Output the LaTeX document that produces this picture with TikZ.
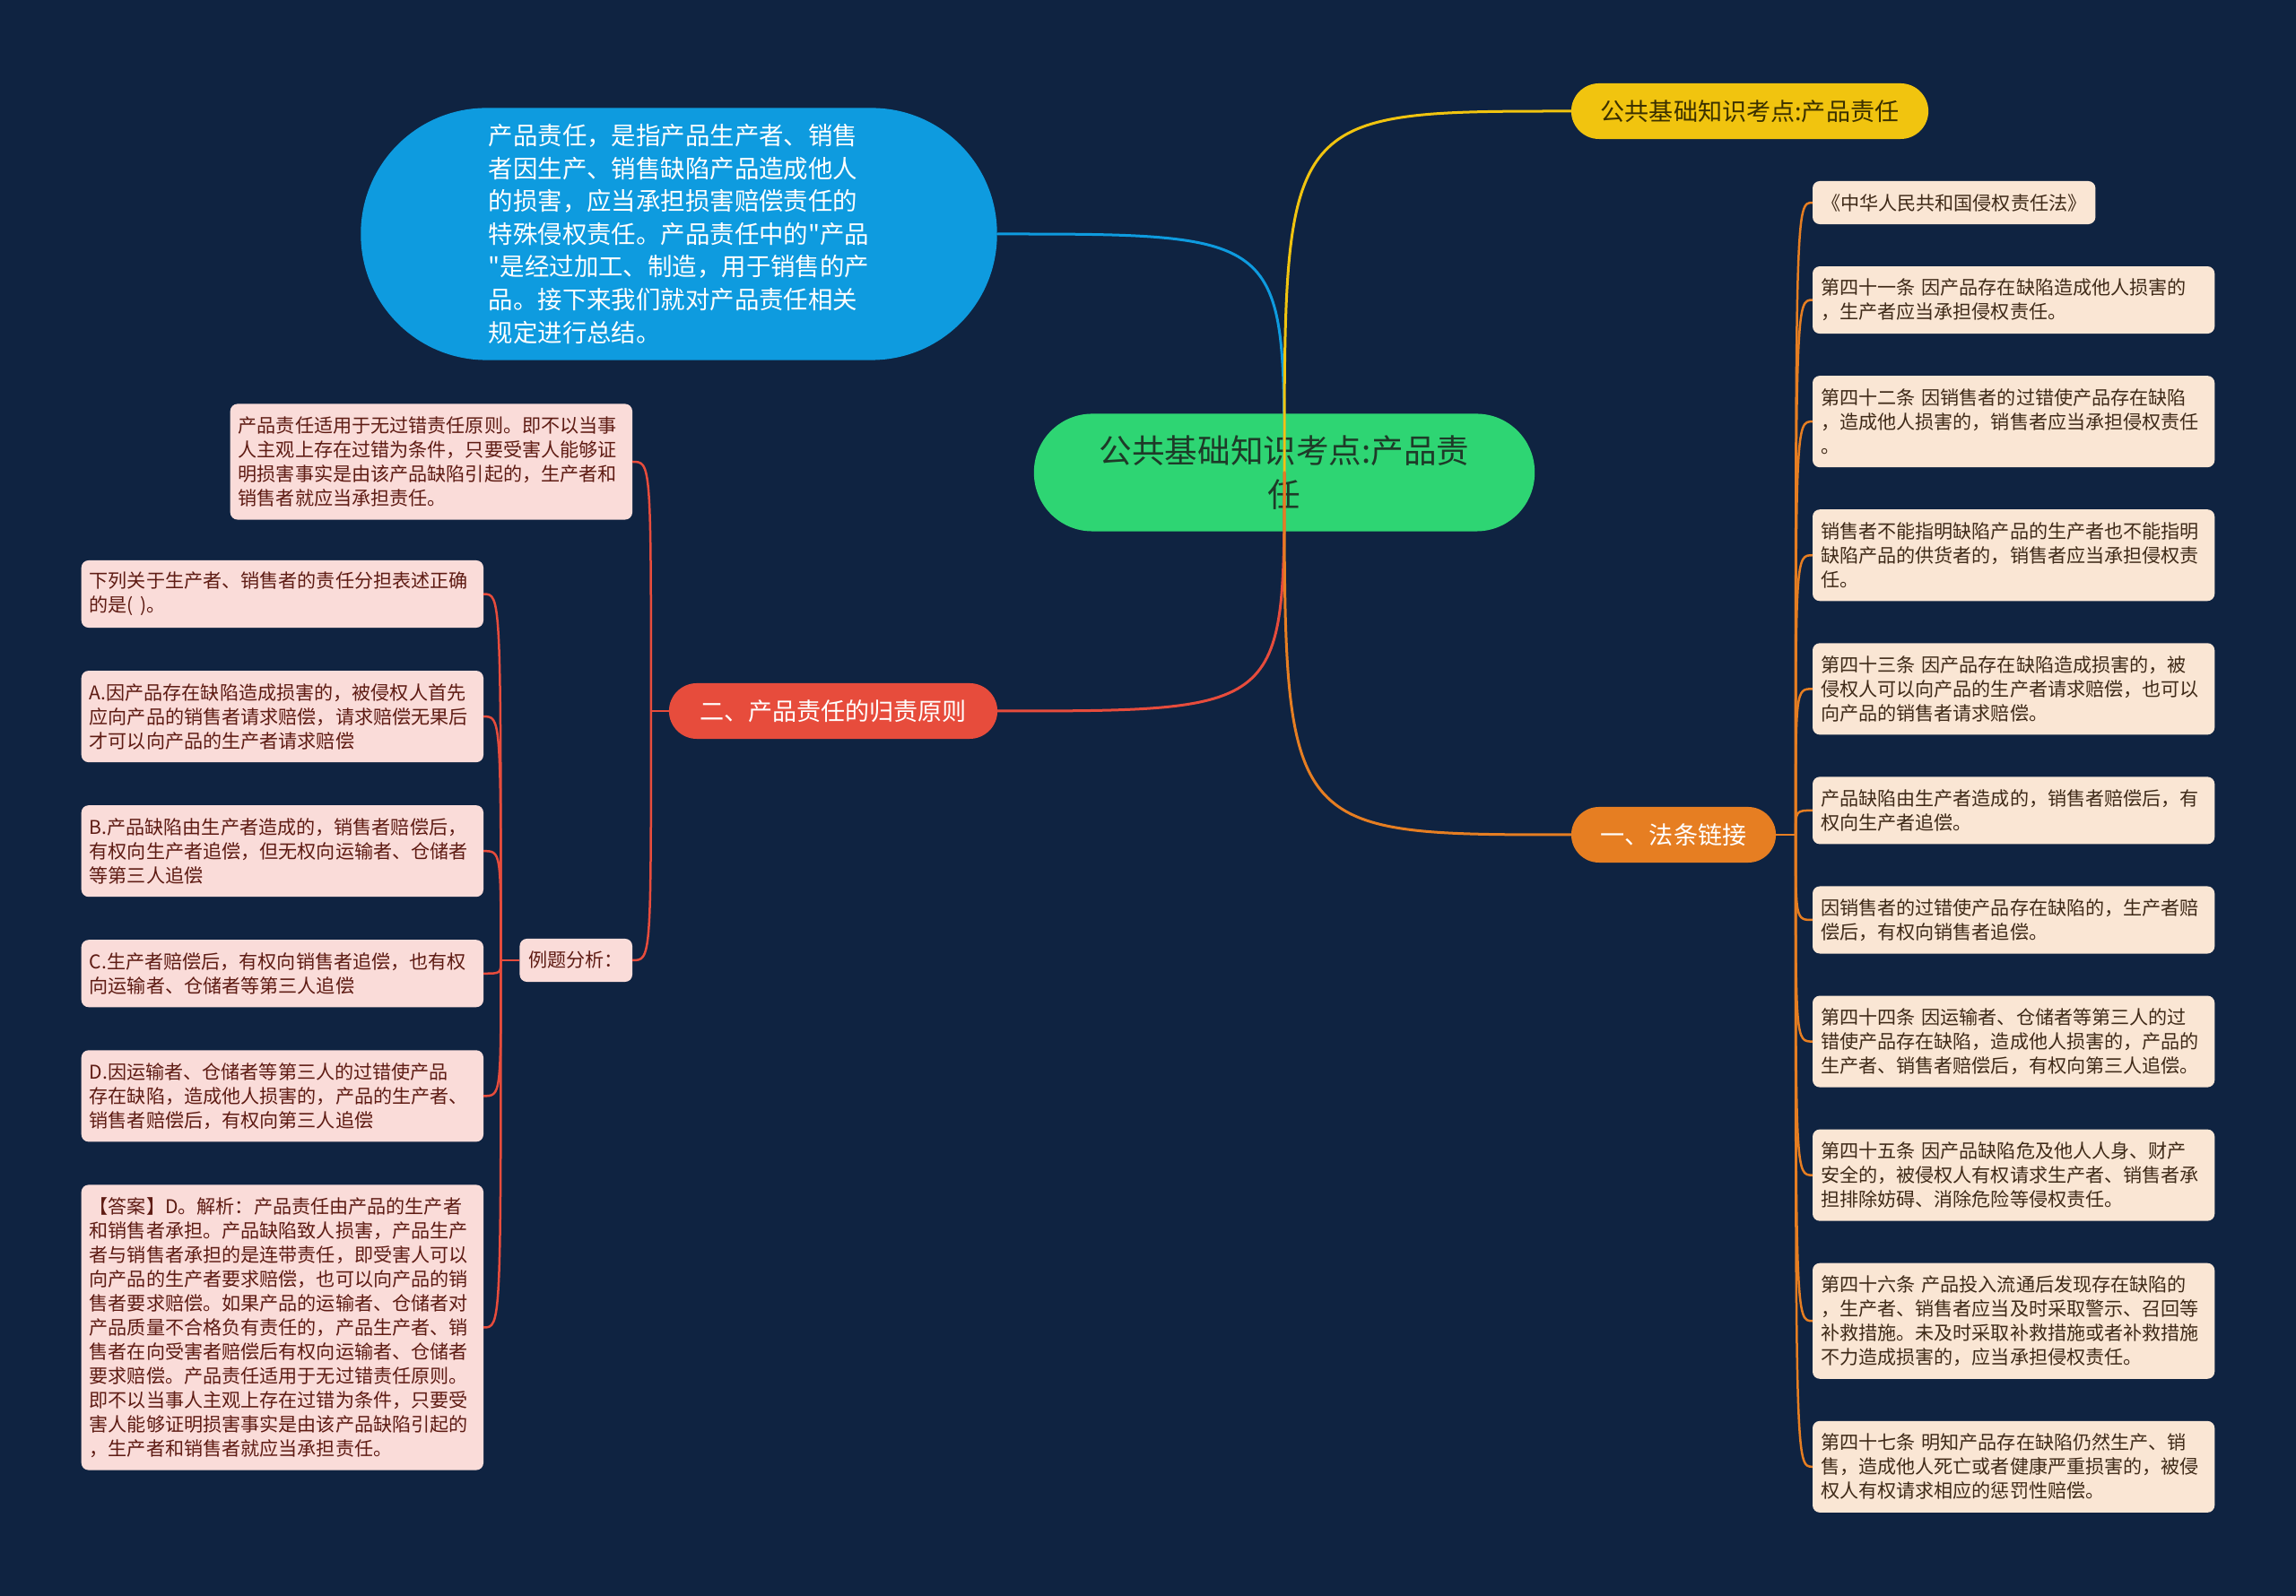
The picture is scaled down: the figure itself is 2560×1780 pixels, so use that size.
\documentclass[tikz,border=0pt]{standalone}
\usepackage{fontspec}
\newfontfamily\cjk{Noto Sans CJK SC}
\definecolor{mmBg}{HTML}{0F2341}
\definecolor{mmGreen}{HTML}{2ED573}
\definecolor{mmGreenText}{HTML}{1E3A28}
\definecolor{mmBlue}{HTML}{0E9BDF}
\definecolor{mmYellow}{HTML}{F1C40F}
\definecolor{mmYellowText}{HTML}{3B3000}
\definecolor{mmRed}{HTML}{E74C3C}
\definecolor{mmOrange}{HTML}{E67E22}
\definecolor{mmPink}{HTML}{FADCD9}
\definecolor{mmMaroon}{HTML}{5E1B13}
\definecolor{mmPeach}{HTML}{FAE6D4}
\definecolor{mmBrown}{HTML}{3F2A18}
\usetikzlibrary{positioning}

\begin{document}
\begin{tikzpicture}[
    x=0.01cm, y=-0.01cm,
    central/.style={fill=mmGreen, text=mmGreenText, rounded corners=0.65cm,
                    minimum width=5.58cm, minimum height=1.31cm, inner sep=0pt,
                    align=center, font=\cjk\fontsize{10.4}{13.8}\selectfont},
    topic/.style={rounded corners=0.31cm, minimum height=0.62cm, inner sep=0pt,
                  outer sep=0pt, font=\cjk\fontsize{7.7}{9.5}\selectfont},
    leafbox/.style={rounded corners=0.08cm, inner xsep=0.1cm, inner ysep=2pt,
                    outer sep=0pt, align=left, font=\cjk\fontsize{6}{7.68}\selectfont},
    wide/.style={text width=4.3cm, inner xsep=0.09cm},
    nlines/.style={minimum height={0.21cm+#1*0.27cm}},
    pinkbox/.style={leafbox, wide, fill=mmPink, text=mmMaroon},
    peachbox/.style={leafbox, wide, fill=mmPeach, text=mmBrown},
    link/.style={line width=0.03cm, line cap=round},
    twig/.style={line width=0.025cm}
  ]
    \fill[mmBg] (0,0) rectangle (2560,1780);

    % main topics
    \node[central] (root) at (1432,527) {公共基础知识考点:产品责\\任};
    \node[fill=mmBlue, text=white, rounded corners=1.4cm, minimum width=7.09cm,
          minimum height=2.81cm, align=left, font=\cjk\fontsize{7.8}{10.4}\selectfont]
      (intro) at (757,261)
      {产品责任，是指产品生产者、销售\\者因生产、销售缺陷产品造成他人\\的损害，应当承担损害赔偿责任的\\特殊侵权责任。产品责任中的"产品\\"是经过加工、制造，用于销售的产\\品。接下来我们就对产品责任相关\\规定进行总结。};
    \node[topic, fill=mmYellow, text=mmYellowText, minimum width=3.98cm]
      (title) at (1951,124) {公共基础知识考点:产品责任};
    \node[topic, fill=mmRed, text=white, minimum width=3.66cm]
      (principle) at (929,793) {二、产品责任的归责原则};
    \node[topic, fill=mmOrange, text=white, minimum width=2.28cm]
      (law) at (1866,931) {一、法条链接};

    % left branch
    \node[pinkbox, nlines=4, anchor=east] (nofault) at (705,515)
      {产品责任适用于无过错责任原则。即不以当事\\人主观上存在过错为条件，只要受害人能够证\\明损害事实是由该产品缺陷引起的，生产者和\\销售者就应当承担责任。};
    \node[leafbox, fill=mmPink, text=mmMaroon, nlines=1, anchor=east] (example) at (705,1071)
      {例题分析：};
    \node[pinkbox, nlines=2, anchor=north east] (quiz) at (539,625)
      {下列关于生产者、销售者的责任分担表述正确\\的是( )。};
    \node[pinkbox, nlines=3, below=0.48cm of quiz.south east, anchor=north east] (optA)
      {A.因产品存在缺陷造成损害的，被侵权人首先\\应向产品的销售者请求赔偿，请求赔偿无果后\\才可以向产品的生产者请求赔偿};
    \node[pinkbox, nlines=3, below=0.48cm of optA.south east, anchor=north east] (optB)
      {B.产品缺陷由生产者造成的，销售者赔偿后，\\有权向生产者追偿，但无权向运输者、仓储者\\等第三人追偿};
    \node[pinkbox, nlines=2, below=0.48cm of optB.south east, anchor=north east] (optC)
      {C.生产者赔偿后，有权向销售者追偿，也有权\\向运输者、仓储者等第三人追偿};
    \node[pinkbox, nlines=3, below=0.48cm of optC.south east, anchor=north east] (optD)
      {D.因运输者、仓储者等第三人的过错使产品\\存在缺陷，造成他人损害的，产品的生产者、\\销售者赔偿后，有权向第三人追偿};
    \node[pinkbox, nlines=11, below=0.48cm of optD.south east, anchor=north east] (answer)
      {【答案】D。解析：产品责任由产品的生产者\\和销售者承担。产品缺陷致人损害，产品生产\\者与销售者承担的是连带责任，即受害人可以\\向产品的生产者要求赔偿，也可以向产品的销\\售者要求赔偿。如果产品的运输者、仓储者对\\产品质量不合格负有责任的，产品生产者、销\\售者在向受害者赔偿后有权向运输者、仓储者\\要求赔偿。产品责任适用于无过错责任原则。\\即不以当事人主观上存在过错为条件，只要受\\害人能够证明损害事实是由该产品缺陷引起的\\，生产者和销售者就应当承担责任。};

    % right branch
    \node[leafbox, fill=mmPeach, text=mmBrown, nlines=1, anchor=north west] (art1) at (2021,202)
      {《中华人民共和国侵权责任法》};
    \node[peachbox, nlines=2, below=0.47cm of art1.south west, anchor=north west] (art2)
      {第四十一条 因产品存在缺陷造成他人损害的\\，生产者应当承担侵权责任。};
    \node[peachbox, nlines=3, below=0.47cm of art2.south west, anchor=north west] (art3)
      {第四十二条 因销售者的过错使产品存在缺陷\\，造成他人损害的，销售者应当承担侵权责任\\。};
    \node[peachbox, nlines=3, below=0.47cm of art3.south west, anchor=north west] (art4)
      {销售者不能指明缺陷产品的生产者也不能指明\\缺陷产品的供货者的，销售者应当承担侵权责\\任。};
    \node[peachbox, nlines=3, below=0.47cm of art4.south west, anchor=north west] (art5)
      {第四十三条 因产品存在缺陷造成损害的，被\\侵权人可以向产品的生产者请求赔偿，也可以\\向产品的销售者请求赔偿。};
    \node[peachbox, nlines=2, below=0.47cm of art5.south west, anchor=north west] (art6)
      {产品缺陷由生产者造成的，销售者赔偿后，有\\权向生产者追偿。};
    \node[peachbox, nlines=2, below=0.47cm of art6.south west, anchor=north west] (art7)
      {因销售者的过错使产品存在缺陷的，生产者赔\\偿后，有权向销售者追偿。};
    \node[peachbox, nlines=3, below=0.47cm of art7.south west, anchor=north west] (art8)
      {第四十四条 因运输者、仓储者等第三人的过\\错使产品存在缺陷，造成他人损害的，产品的\\生产者、销售者赔偿后，有权向第三人追偿。};
    \node[peachbox, nlines=3, below=0.47cm of art8.south west, anchor=north west] (art9)
      {第四十五条 因产品缺陷危及他人人身、财产\\安全的，被侵权人有权请求生产者、销售者承\\担排除妨碍、消除危险等侵权责任。};
    \node[peachbox, nlines=4, below=0.47cm of art9.south west, anchor=north west] (art10)
      {第四十六条 产品投入流通后发现存在缺陷的\\，生产者、销售者应当及时采取警示、召回等\\补救措施。未及时采取补救措施或者补救措施\\不力造成损害的，应当承担侵权责任。};
    \node[peachbox, nlines=3, below=0.47cm of art10.south west, anchor=north west] (art11)
      {第四十七条 明知产品存在缺陷仍然生产、销\\售，造成他人死亡或者健康严重损害的，被侵\\权人有权请求相应的惩罚性赔偿。};

    % curves from the centre
    \draw[link, mmBlue] (root.center) .. controls (root.center |- intro.east) .. (intro.east);
    \draw[link, mmYellow] (root.center) .. controls (root.center |- title.west) .. (title.west);
    \draw[link, mmRed] (root.center) .. controls (root.center |- principle.east) .. (principle.east);
    \draw[link, mmOrange] (root.center) .. controls (root.center |- law.west) .. (law.west);

    % left twigs
    \coordinate[left=0.2cm of principle.west] (pj);
    \draw[twig, mmRed] (principle.west) -- (pj);
    \draw[twig, mmRed] (pj) .. controls (pj |- nofault.east) .. (nofault.east);
    \draw[twig, mmRed] (pj) .. controls (pj |- example.east) .. (example.east);
    \coordinate[left=0.21cm of example.west] (ej);
    \draw[twig, mmRed] (example.west) -- (ej);
    \draw[twig, mmRed] (ej) .. controls (ej |- quiz.east) .. (quiz.east);
    \draw[twig, mmRed] (ej) .. controls (ej |- optA.east) .. (optA.east);
    \draw[twig, mmRed] (ej) .. controls (ej |- optB.east) .. (optB.east);
    \draw[twig, mmRed] (ej) .. controls (ej |- optC.east) .. (optC.east);
    \draw[twig, mmRed] (ej) .. controls (ej |- optD.east) .. (optD.east);
    \draw[twig, mmRed] (ej) .. controls (ej |- answer.east) .. (answer.east);

    % right twigs
    \coordinate[right=0.22cm of law.east] (lj);
    \draw[twig, mmOrange] (law.east) -- (lj);
    \draw[twig, mmOrange] (lj) .. controls (lj |- art1.west) .. (art1.west);
    \draw[twig, mmOrange] (lj) .. controls (lj |- art2.west) .. (art2.west);
    \draw[twig, mmOrange] (lj) .. controls (lj |- art3.west) .. (art3.west);
    \draw[twig, mmOrange] (lj) .. controls (lj |- art4.west) .. (art4.west);
    \draw[twig, mmOrange] (lj) .. controls (lj |- art5.west) .. (art5.west);
    \draw[twig, mmOrange] (lj) .. controls (lj |- art6.west) .. (art6.west);
    \draw[twig, mmOrange] (lj) .. controls (lj |- art7.west) .. (art7.west);
    \draw[twig, mmOrange] (lj) .. controls (lj |- art8.west) .. (art8.west);
    \draw[twig, mmOrange] (lj) .. controls (lj |- art9.west) .. (art9.west);
    \draw[twig, mmOrange] (lj) .. controls (lj |- art10.west) .. (art10.west);
    \draw[twig, mmOrange] (lj) .. controls (lj |- art11.west) .. (art11.west);
  \end{tikzpicture}
\end{document}
